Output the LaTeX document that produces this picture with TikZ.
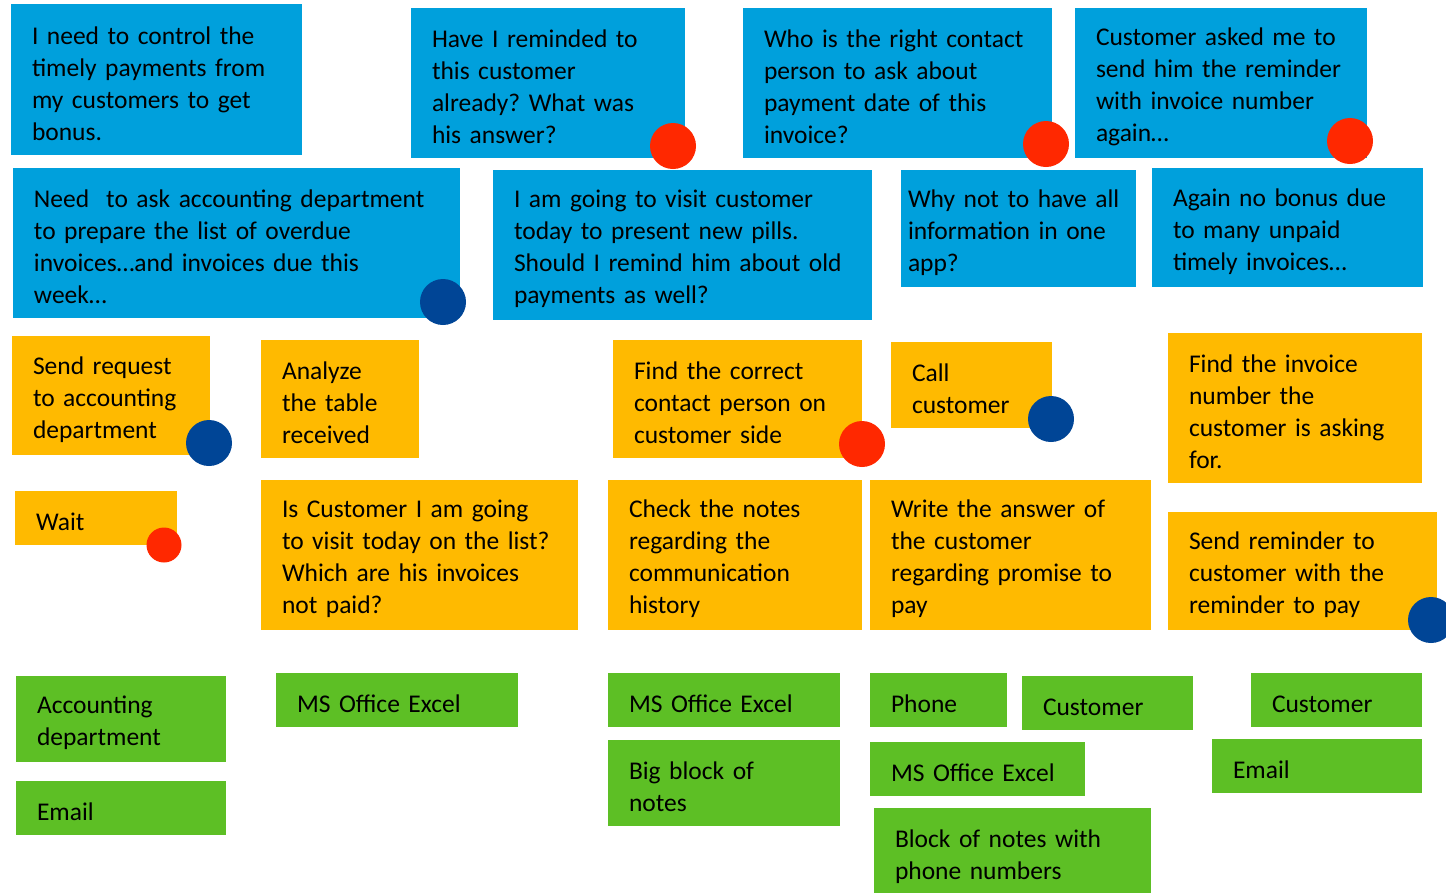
\documentclass[tikz,border=0pt]{standalone}
\usepackage{fontspec}
\setmainfont{Carlito}
\usepackage{tikz}
\frenchspacing
\hyphenpenalty=10000
\exhyphenpenalty=10000
\definecolor{thinkblue}{RGB}{0,160,220}
\definecolor{actionamber}{RGB}{255,186,0}
\definecolor{toolgreen}{RGB}{93,191,37}
\definecolor{dotred}{RGB}{255,40,0}
\definecolor{dotnavy}{RGB}{0,69,150}
\tikzset{
  card/.style={inner xsep=21pt, inner ysep=0pt, align=left,
               font=\fontsize{25.5}{32}\selectfont,
               execute at begin node={\rule{0pt}{26pt}}},
  thought/.style={card, fill=thinkblue},
  action/.style={card, fill=actionamber},
  tool/.style={card, fill=toolgreen},
  dot/.style={circle, inner sep=0pt, minimum size=46pt},
  reddot/.style={dot, fill=dotred},
  navydot/.style={dot, fill=dotnavy},
}

\begin{document}
\begin{tikzpicture}[x=1pt,y=-1pt]
  \path[use as bounding box, fill=white] (0,0) rectangle (1446,892);
  \clip (0,0) rectangle (1446,892);

  % thoughts of the sales rep
  \node[thought, minimum width=291, minimum height=151, text width=249] (BONUS) at (156.5,79.5)
    {I need to control the\\timely payments from\\my customers to get\\bonus.};
  \node[thought, minimum width=274, minimum height=150, text width=232] (REMIND) at (548,83)
    {Have I reminded to\\this customer\\already? What was\\his answer?};
  \node[thought, minimum width=309, minimum height=150, text width=267] (WHO) at (897.5,83)
    {Who is the right contact\\person to ask about\\payment date of this\\invoice?};
  \node[thought, minimum width=292, minimum height=150, text width=250] (ASKED) at (1221,83)
    {Customer asked me to\\send him the reminder\\with invoice number\\again…};
  \node[thought, minimum width=447, minimum height=150, text width=405] (ACCT) at (236.5,243)
    {Need~~to ask accounting department\\to prepare the list of overdue\\invoices…and invoices due this\\week…};
  \node[thought, minimum width=379, minimum height=150, text width=337] (VISIT) at (682.5,245)
    {I am going to visit customer\\today to present new pills.\\Should I remind him about old\\payments as well?};
  \node[thought, inner xsep=7pt, minimum width=235, minimum height=117, text width=221] (APP) at (1018.5,228.5)
    {Why not to have all\\information in one\\app?};
  \node[thought, minimum width=271, minimum height=119, text width=229] (NOBONUS) at (1287.5,227.5)
    {Again no bonus due\\to many unpaid\\timely invoices…};

  % actions
  \node[action, minimum width=198, minimum height=119, text width=156] (REQ) at (111,395.5)
    {Send request\\to accounting\\department};
  \node[action, minimum width=158, minimum height=118, text width=116] (TABLE) at (340,399)
    {Analyze\\the table\\received};
  \node[action, minimum width=249, minimum height=118, text width=207] (FIND) at (737.5,399)
    {Find the correct\\contact person on\\customer side};
  \node[action, minimum width=161, minimum height=86, text width=119] (CALL) at (971.5,385)
    {Call\\customer};
  \node[action, minimum width=254, minimum height=150, text width=212] (INVNO) at (1295,408)
    {Find the invoice\\number the\\customer is asking\\for.};
  \node[action, minimum width=162, minimum height=54, text width=120] (WAIT) at (96,518)
    {Wait};
  \node[action, minimum width=317, minimum height=150, text width=275] (LIST) at (419.5,555)
    {Is Customer I am going\\to visit today on the list?\\Which are his invoices\\not paid?};
  \node[action, minimum width=254, minimum height=150, text width=212] (NOTES) at (735,555)
    {Check the notes\\regarding the\\communication\\history};
  \node[action, minimum width=281, minimum height=150, text width=239] (PROMISE) at (1010.5,555)
    {Write the answer of\\the customer\\regarding promise to\\pay};
  \node[action, minimum width=269, minimum height=118, text width=227] (SEND) at (1302.5,571)
    {Send reminder to\\customer with the\\reminder to pay};

  % tools
  \node[tool, minimum width=210, minimum height=86, text width=168] (T1) at (121,719)
    {Accounting\\department};
  \node[tool, minimum width=210, minimum height=54, text width=168] (T2) at (121,808)
    {Email};
  \node[tool, minimum width=242, minimum height=54, text width=200] (T3) at (397,700)
    {MS Office Excel};
  \node[tool, minimum width=232, minimum height=54, text width=190] (T4) at (724,700)
    {MS Office Excel};
  \node[tool, minimum width=232, minimum height=86, text width=190] (T5) at (724,783)
    {Big block of\\notes};
  \node[tool, minimum width=137, minimum height=54, text width=95] (T6) at (938.5,700)
    {Phone};
  \node[tool, minimum width=171, minimum height=54, text width=129] (T7) at (1107.5,703)
    {Customer};
  \node[tool, minimum width=215, minimum height=54, text width=173] (T8) at (977.5,769)
    {MS Office Excel};
  \node[tool, minimum width=277, minimum height=90, text width=235] (T9) at (1012.5,853)
    {Block of notes with\\phone numbers};
  \node[tool, minimum width=171, minimum height=54, text width=129] (T10) at (1336.5,700)
    {Customer};
  \node[tool, minimum width=210, minimum height=54, text width=168] (T11) at (1317,766)
    {Email};

  % dots on the cards
  \node[reddot] (REMINDdot) at (673,146) {};
  \node[reddot] (WHOdot) at (1046,144) {};
  \node[reddot] (ASKEDdot) at (1350,141) {};
  \node[navydot] (ACCTdot) at (443,302) {};
  \node[navydot] (REQdot) at (209,443) {};
  \node[reddot] (FINDdot) at (862,444) {};
  \node[navydot] (CALLdot) at (1051,419) {};
  \node[reddot, minimum size=35] (WAITdot) at (164,545) {};
  \node[navydot] (SENDdot) at (1431,620) {};
\end{tikzpicture}
\end{document}
